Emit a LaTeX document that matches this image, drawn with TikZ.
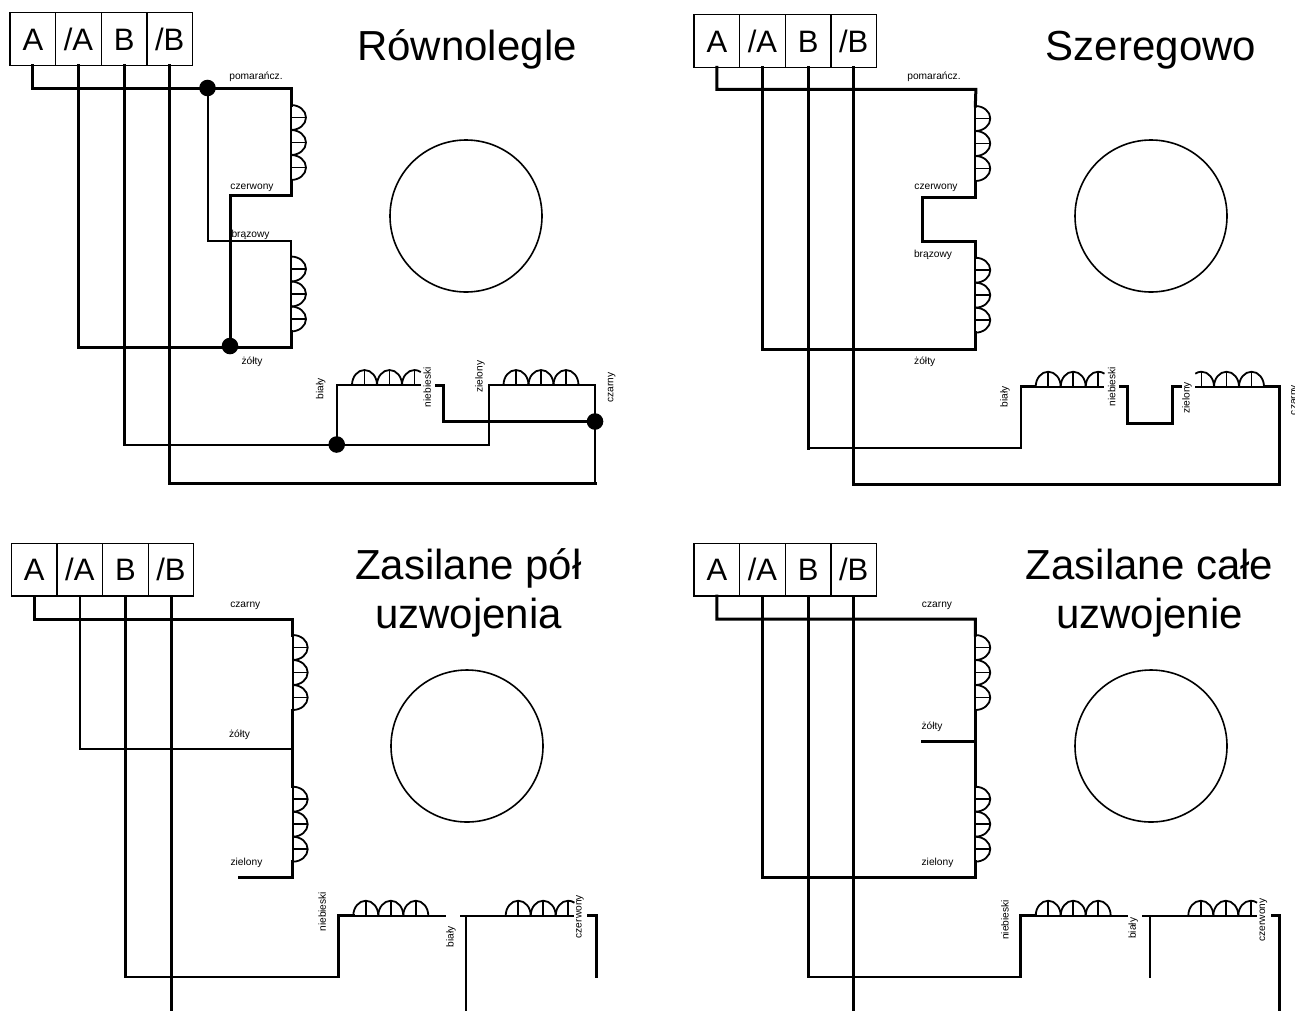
\documentclass[tikz,border=0pt]{standalone}
\usepackage{fontspec}
\setmainfont{Liberation Sans}
\usetikzlibrary{positioning}
\tikzset{
 term/.style = {draw, line width=1.3pt, minimum width=45.6pt, minimum height=52.8pt, inner sep=0pt, outer sep=0pt, text height=22pt, text depth=0pt, font=\fontsize{31}{31}\selectfont},
 title/.style = {align=center, anchor=base, inner sep=0pt, font=\fontsize{42}{49}\selectfont},
 lab/.style = {inner sep=0pt, yshift=-1.5pt, font=\fontsize{10.2}{10.2}\selectfont},
 labv/.style = {inner sep=0pt, rotate=90, font=\fontsize{10.2}{10.2}\selectfont},
 wire/.style = {line width=3pt, line cap=rect},
 thinwire/.style = {line width=2pt, line cap=rect},
 dot/.style = {circle, fill=black, minimum size=16.6pt, inner sep=0pt},
 rotor/.style = {circle, draw, line width=1.6pt, minimum size=152pt, inner sep=0pt},
 coilline/.style = {line width=1.8pt},
 coil/.pic = {
  \draw[coilline] (0,0) -- (75,0);
  \foreach \i in {0,25,50} {
   \draw[coilline] (\i,0) arc[start angle=180, end angle=0, x radius=12.5pt, y radius=15pt];
   \draw[coilline] (\i+12.5,0) -- ++(0,-15);
  }
 },
 coilcut/.pic = {
  \draw[coilline] (0,0) -- (68.7,0);
  \foreach \i in {0,25} {
   \draw[coilline] (\i,0) arc[start angle=180, end angle=0, x radius=12.5pt, y radius=15pt];
   \draw[coilline] (\i+12.5,0) -- ++(0,-15);
  }
  \draw[coilline] (50,0) arc[start angle=180, end angle=60, x radius=12.5pt, y radius=15pt];
  \draw[coilline] (62.5,0) -- ++(0,-15);
 }
}
\begin{document}
\begin{tikzpicture}[x=1pt, y=-1pt]
 \useasboundingbox (0,0) rectangle (1295,1010);
 \coordinate (bottom) at (0,1010);

 % terminal strips
 \foreach \n/\x/\y in {1/32.9/39, 2/716.9/41, 3/34.2/569.7, 4/716.9/569.7} {
  \node[term] (a\n) at (\x,\y) {A};
  \node[term, right=0pt of a\n] (na\n) {/A};
  \node[term, right=0pt of na\n] (b\n) {B};
  \node[term, right=0pt of b\n] (nb\n) {/B};
 }

 % rotors
 \node[rotor] (r1) at (466,216) {};
 \node[rotor] (r2) at (1151,216) {};
 \node[rotor] (r3) at (467,746) {};
 \node[rotor] (r4) at (1151,746) {};

 % titles
 \node[title] (t1) at (467,60.7) {Równolegle};
 \node[title] (t2) at (1151,60.7) {Szeregowo};
 \node[title] (t3) at (468.5,628) {Zasilane pół\\uzwojenia};
 \node[title] (t4) at (1149.5,628) {Zasilane całe\\uzwojenie};

 % ---- Rownolegle ----
 \node[dot] (d1) at (207.5,88) {};
 \node[dot] (d2) at (230,346) {};
 \node[dot] (d3) at (336.7,444.5) {};
 \node[dot] (d4) at (595,421.5) {};
 \coordinate (k11) at (291,105);
 \coordinate (k12) at (291,180);
 \coordinate (k13) at (291,256.5);
 \coordinate (k14) at (291,331.5);
 \coordinate (k15) at (352,385);
 \coordinate (k16) at (420.7,385);
 \coordinate (k17) at (503.5,385);
 \coordinate (k18) at (578.5,385);
 \coordinate (n1) at (436,385);
 \coordinate (z1) at (489,385);
 \coordinate (c1) at (595,483);
 \pic[rotate=-90] at (k11) {coil};
 \pic[rotate=-90] at (k13) {coil};
 \pic at (k15) {coilcut};
 \pic at (k17) {coil};
 \draw[wire] (a1.south) |- (d1.center) -| (k11);
 \draw[wire] (k12) -- ++(0,15) -| (d2.center);
 \draw[thinwire] (d1.center) -- ++(0,153) -| (k13);
 \draw[wire] (k14) -- ++(0,15.5) -| (na1.south);
 \draw[wire] (b1.south) -- (b1.south |- d3.center);
 \draw[thinwire] (b1.south |- d3.center) -- (d3.center) -| (z1) -- (k17);
 \draw[thinwire] (d3.center) |- (k15);
 \draw[wire] (n1) -- ++(7,0) |- (d4.center);
 \draw[thinwire] (k18) -| (d4.center);
 \draw[wire] (nb1.south) |- (c1);
 \draw[thinwire] (c1) -- (d4.center);
 \node[lab] (l11) at (256,75) {pomarańcz.};
 \node[lab] (l12) at (252,186.7) {czerwony};
 \node[lab] (l13) at (250.5,233) {brązowy};
 \node[lab] (l14) at (252,360) {żółty};
 \node[labv] (l15) at (320.7,389) {biały};
 \node[labv] (l16) at (427.3,387.3) {niebieski};
 \node[labv] (l17) at (480,376.7) {zielony};
 \node[labv] (l18) at (611.7,387.7) {czarny};

 % ---- Szeregowo ----
 \coordinate (k21) at (975.3,106);
 \coordinate (k22) at (975.3,181);
 \coordinate (k23) at (975.3,257.7);
 \coordinate (k24) at (975.3,332.7);
 \coordinate (k25) at (1035.7,386.7);
 \coordinate (k26) at (1104.4,386.7);
 \coordinate (k27) at (1195.3,386.7);
 \coordinate (k28) at (1264,386.7);
 \coordinate (n2) at (1120,386.7);
 \coordinate (m2) at (1180,386.7);
 \coordinate (c2) at (1279,484);
 \coordinate (e2) at (1021,448);
 \pic[rotate=-90] at (k21) {coil};
 \pic[rotate=-90] at (k23) {coil};
 \pic at (k25) {coilcut};
 \pic[xscale=-1] at (k28) {coilcut};
 \draw[wire] (a2.south) |- ++(259,22) -- (k21);
 \draw[wire] (k22) -- ++(0,16.3) -| ++(-53.3,44.4) -| (k23);
 \draw[wire] (k24) -- ++(0,16.6) -| (na2.south);
 \draw[wire] (b2.south) -- (b2.south |- e2);
 \draw[thinwire] (b2.south |- e2) -- (e2);
 \draw[line width=2.5pt] (e2) |- (k25);
 \draw[wire] (n2) -- ++(7,0) -- ++(0,36.3) -- ++(45.7,0) |- (m2);
 \draw[wire] (k28) -| (c2);
 \draw[wire] (c2) -| (nb2.south);
 \node[lab] (l21) at (934,75) {pomarańcz.};
 \node[lab] (l22) at (936,186.7) {czerwony};
 \node[lab] (l23) at (933,253) {brązowy};
 \node[lab] (l24) at (924.7,360) {żółty};
 \node[labv] (l25) at (1005,397) {biały};
 \node[labv] (l26) at (1111.7,386.7) {niebieski};
 \node[labv] (l27) at (1187,398) {zielony};
 \node[labv] (l28) at (1295,400) {czarny};

 % ---- Zasilane pol uzwojenia ----
 \coordinate (k31) at (292.7,635);
 \coordinate (k32) at (292.7,710);
 \coordinate (k33) at (292.7,786.7);
 \coordinate (k34) at (292.7,861.7);
 \coordinate (k35) at (353.3,915.7);
 \coordinate (k36) at (428.3,915.7);
 \coordinate (k37) at (505.7,915.7);
 \coordinate (k38) at (574.4,915.7);
 \coordinate (j3) at (292.7,748.7);
 \coordinate (s3) at (239.3,877.7);
 \coordinate (e3) at (338.3,976.7);
 \coordinate (n3) at (445,915.7);
 \coordinate (u3) at (460.7,915.7);
 \coordinate (v3) at (465.7,915.7);
 \coordinate (g3) at (588.3,915.7);
 \coordinate (h3) at (596.7,976.7);
 \pic[rotate=-90] at (k31) {coil};
 \pic[rotate=-90] at (k33) {coil};
 \pic at (k35) {coil};
 \pic at (k37) {coilcut};
 \draw[wire] (a3.south) |- ++(258.5,23) -- (k31);
 \draw[wire] (k32) -- (k33);
 \draw[wire] (k34) |- (s3);
 \draw[thinwire] (na3.south) |- (j3);
 \draw[wire] (b3.south) -- (b3.south |- e3);
 \draw[thinwire] (b3.south |- e3) -- (e3);
 \draw[wire] (e3) |- (k35);
 \draw[thinwire] (k36) -- (n3);
 \draw[thinwire] (u3) -- (k37);
 \draw[thinwire] (v3) -- (v3 |- bottom);
 \draw[wire] (g3) -| (h3);
 \draw[wire] (nb3.south) -- (nb3.south |- bottom);
 \node[lab] (l31) at (245.3,604) {czarny};
 \node[lab] (l32) at (239.5,733.3) {żółty};
 \node[lab] (l33) at (246.5,861.7) {zielony};
 \node[labv] (l35) at (322.3,911.7) {niebieski};
 \node[labv] (l36) at (451,936.7) {biały};
 \node[labv] (l37) at (580,916.7) {czerwony};

 % ---- Zasilane cale uzwojenie ----
 \coordinate (k41) at (975.3,635);
 \coordinate (k42) at (975.3,710);
 \coordinate (k43) at (975.3,786.7);
 \coordinate (k44) at (975.3,861.7);
 \coordinate (k45) at (1035.7,915.7);
 \coordinate (k46) at (1110.7,915.7);
 \coordinate (k47) at (1188.3,915.7);
 \coordinate (k48) at (1257,915.7);
 \coordinate (s4) at (922,741.3);
 \coordinate (e4) at (1020.7,976.7);
 \coordinate (n4) at (1126.7,915.7);
 \coordinate (u4) at (1143.3,915.7);
 \coordinate (v4) at (1150,915.7);
 \coordinate (w4) at (1150,976.7);
 \coordinate (g4) at (1272.7,915.7);
 \coordinate (h4) at (1279,915.7);
 \pic[rotate=-90] at (k41) {coil};
 \pic[rotate=-90] at (k43) {coil};
 \pic at (k45) {coil};
 \pic at (k47) {coilcut};
 \draw[wire] (a4.south) |- ++(258.4,23) -- (k41);
 \draw[wire] (k42) -- (k43);
 \draw[wire] (s4) -- (s4 -| k42);
 \draw[wire] (k44) -- ++(0,16) -| (na4.south);
 \draw[wire] (b4.south) -- (b4.south |- e4);
 \draw[thinwire] (b4.south |- e4) -- (e4);
 \draw[wire] (e4) |- (k45);
 \draw[thinwire] (k46) -- (n4);
 \draw[thinwire] (u4) -- (k47);
 \draw[thinwire] (v4) -- (w4);
 \draw[wire] (g4) -- (h4) -- (h4 |- bottom);
 \draw[wire] (nb4.south) -- (nb4.south |- bottom);
 \node[lab] (l41) at (937,604) {czarny};
 \node[lab] (l42) at (932,725) {żółty};
 \node[lab] (l43) at (937.5,861.7) {zielony};
 \node[labv] (l45) at (1005,920) {niebieski};
 \node[labv] (l46) at (1133.3,928.3) {biały};
 \node[labv] (l47) at (1263.3,920) {czerwony};
\end{tikzpicture}
\end{document}
